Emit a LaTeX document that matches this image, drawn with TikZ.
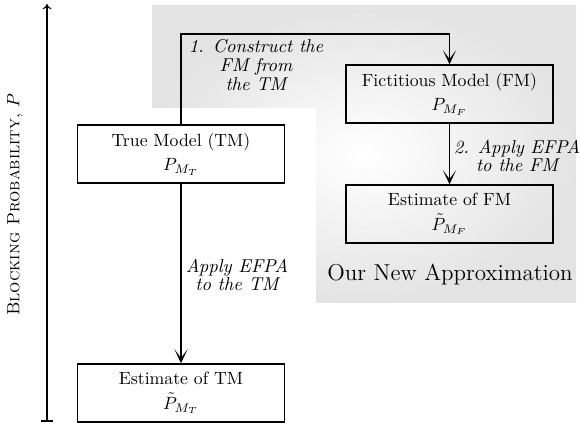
\documentclass[tikz,border=0pt]{standalone}
\usetikzlibrary{arrows.meta}
\begin{document}
\begin{tikzpicture}[x=0.565pt,y=-0.565pt,
  box/.style={draw,line width=0.8pt,minimum width=117pt,minimum height=32.8pt,align=center,inner sep=2pt},
  conn/.style={line width=0.8pt,-{Stealth[length=8pt,width=7.5pt,inset=5pt]}},
  lbl/.style={align=center,font=\itshape\fontsize{10.5}{10.5}\selectfont,inner sep=1pt}]
\useasboundingbox (0,0) rectangle (580,423);
\shade[inner color=white, outer color=gray!22] (152,5) -- (576,5) -- (576,303) -- (316,303) -- (316,108) -- (152,108) -- cycle;
% axis
\coordinate (ab) at (47,421);
\coordinate (at) at (47,4);
\coordinate (tl) at (41,421);
\coordinate (tr) at (53,421);
\draw[line width=0.6pt,-{To[length=3pt,width=5pt]}] (ab) -- (at);
\draw[line width=0.6pt] (tl) -- (tr);
\node[rotate=90] (yl) at (15,205) {\textsc{Blocking Probability}, $P$};
% boxes
\node[box] (tm) at (181,154) {True Model (TM)\\[2pt] $P_{M_T}$};
\node[box] (etm) at (181,393) {Estimate of TM\\[2pt] $\tilde{P}_{M_T}$};
\node[box] (fm) at (449.5,94) {Fictitious Model (FM)\\[2pt] $P_{M_F}$};
\node[box] (efm) at (449.5,214) {Estimate of FM\\[2pt] $\tilde{P}_{M_F}$};
% connectors
\coordinate (c1) at (181,34);
\coordinate (c2) at (449.5,34);
\draw[conn] (tm.north) -- (c1) -- (c2) -- (fm.north);
\draw[conn] (fm) -- (efm);
\draw[conn] (tm) -- (etm);
% labels
\node[lbl] (l1) at (256,65) {1. Construct the\\ FM from\\ the TM};
\node[lbl] (l2) at (517,156) {2. Apply EFPA\\ to the FM};
\node[lbl] (l3) at (237,275) {Apply EFPA\\ to the TM};
\node[font=\fontsize{13}{15}\selectfont] (ona) at (450,275) {Our New Approximation};
\end{tikzpicture}
\end{document}
